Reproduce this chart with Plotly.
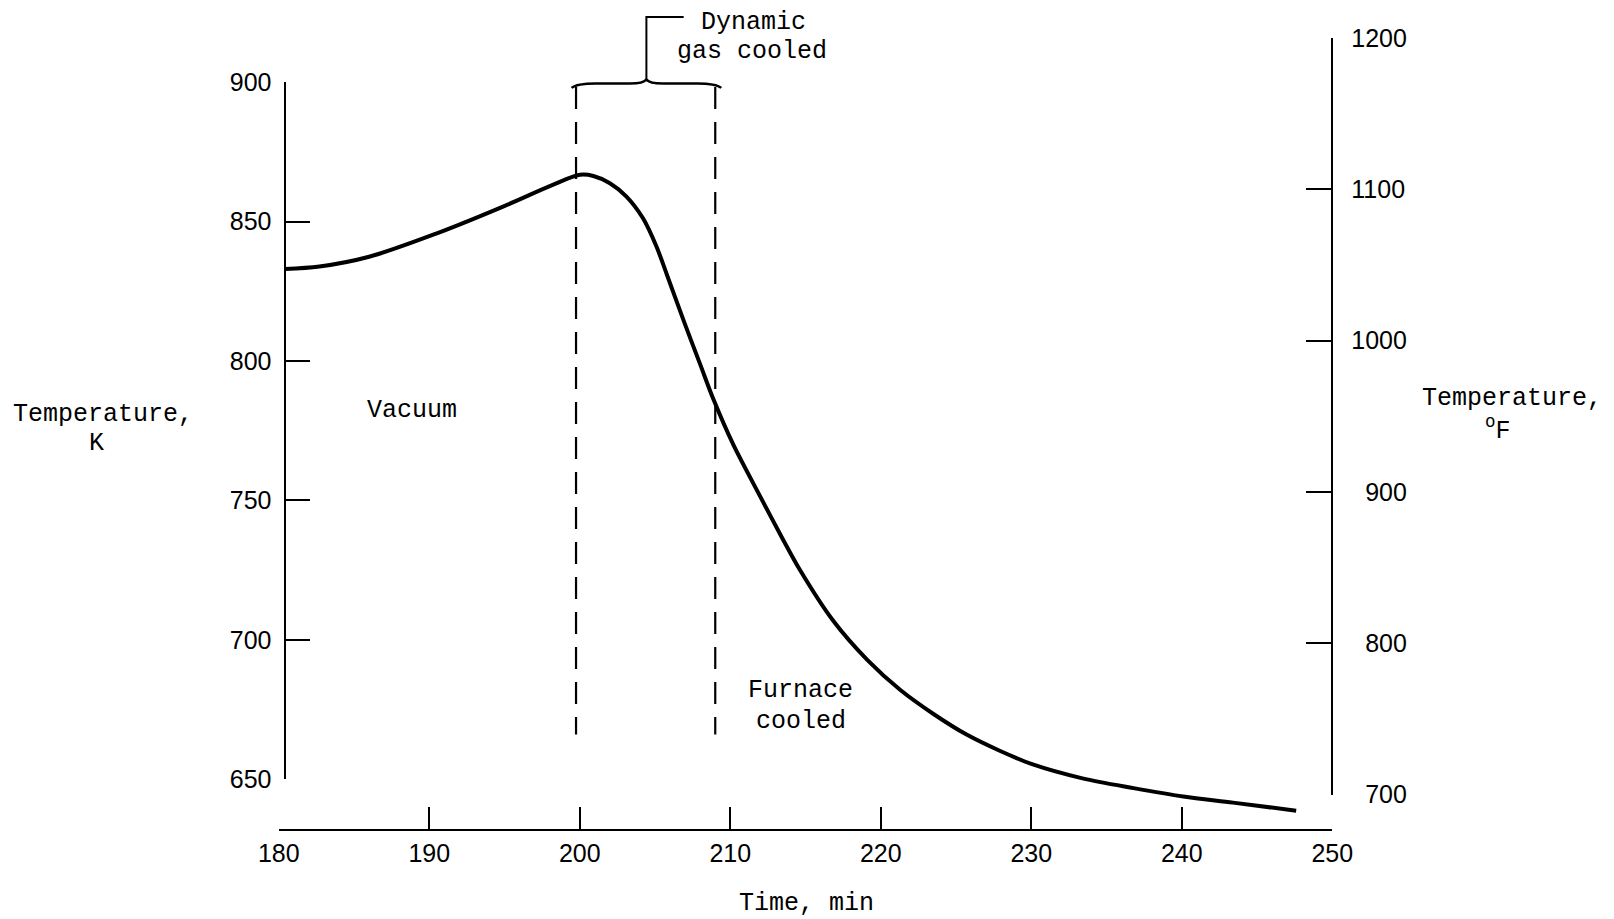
import plotly.graph_objects as go

# ---------------- data ----------------
time_min = [180.4, 182.7, 186.0, 190.5, 194.9, 198.2, 200.0, 200.9, 202.0, 203.1,
            204.2, 205.1, 205.8, 206.9, 208.0, 208.9, 210.2, 212.0, 213.5, 214.6,
            216.8, 219.1, 221.3, 223.5, 225.7, 227.9, 230.1, 233.4, 236.8, 240.1,
            243.4, 247.6]
temp_K = [833.0, 833.9, 837.4, 845.8, 855.4, 863.2, 866.8, 866.4, 863.8, 859.0,
          851.2, 841.0, 830.8, 814.5, 798.8, 786.0, 770.0, 751.3, 736.0, 725.3,
          707.1, 692.8, 682.0, 673.4, 666.0, 660.2, 655.3, 650.3, 646.8, 643.8,
          641.6, 638.7]

gas_cooled_start = 199.75   # min
gas_cooled_end = 209.0      # min

x_ticks = [180, 190, 200, 210, 220, 230, 240, 250]
k_ticks = [650, 700, 750, 800, 850, 900]
f_ticks = [700, 800, 900, 1000, 1100, 1200]

temp_F = [k * 1.8 - 459.67 for k in temp_K]

# ---------------- layout geometry (pixels of the 1614x919 page) ----------------
W, H = 1614, 919


def px(x):
    return x / W


def py(y):
    return 1 - y / H


X180, X250 = 278.8, 1332.3
Y900, Y650 = 82.3, 779.2
Y_XAXIS = 829.0
Y1200F, Y700F = 38.1, 794.6
X_KAXIS = 284.5
X_FAXIS = 1332.3

k_per_px = (900 - 650) / (Y650 - Y900)
k_top = 900 + Y900 * k_per_px
k_bottom = 650 - (Y_XAXIS - Y650) * k_per_px

dashed_top_K = 898.3
dashed_bottom_K = 666.0
brace_end_K, brace_arm_K, brace_cusp_K = 898.0, 899.6, 901.0
leader_top_K = 923.4
leader_end_t = 206.9

MONO = "Liberation Mono, Courier New, monospace"
SANS = "Liberation Sans, Arial, sans-serif"
BLACK = "#000000"

fig = go.Figure()

# main curve
fig.add_trace(go.Scatter(
    x=time_min, y=temp_K, mode="lines",
    line=dict(color=BLACK, width=4, shape="spline", smoothing=0.9),
    xaxis="x", yaxis="y", hoverinfo="skip", showlegend=False))

# phase boundaries (dashed)
for t in (gas_cooled_start, gas_cooled_end):
    fig.add_trace(go.Scatter(
        x=[t, t], y=[dashed_top_K, dashed_bottom_K], mode="lines",
        line=dict(color=BLACK, width=2.2, dash="22px,13px"),
        xaxis="x", yaxis="y", hoverinfo="skip", showlegend=False))

# invisible carriers for the visible K and F axes
fig.add_trace(go.Scatter(x=time_min, y=temp_K, mode="lines", opacity=0,
                         xaxis="x", yaxis="y3", hoverinfo="skip", showlegend=False))
fig.add_trace(go.Scatter(x=time_min, y=temp_F, mode="lines", opacity=0,
                         xaxis="x", yaxis="y2", hoverinfo="skip", showlegend=False))

# curly brace over the gas-cooled interval + leader
L = gas_cooled_start - 0.3
R = gas_cooled_end + 0.4
M = (L + R) / 2
brace = (f"M {L},{brace_end_K} Q {L + 0.35},{brace_arm_K} {L + 1.6},{brace_arm_K} "
         f"L {M - 1.4},{brace_arm_K} Q {M - 0.25},{brace_arm_K - 0.3} {M},{brace_cusp_K} "
         f"Q {M + 0.25},{brace_arm_K - 0.3} {M + 1.4},{brace_arm_K} "
         f"L {R - 1.6},{brace_arm_K} Q {R - 0.35},{brace_arm_K} {R},{brace_end_K}")
leader = f"M {M},{brace_cusp_K} L {M},{leader_top_K} L {leader_end_t},{leader_top_K}"
shapes = [
    dict(type="path", path=brace, xref="x", yref="y", line=dict(color=BLACK, width=2.5)),
    dict(type="path", path=leader, xref="x", yref="y", line=dict(color=BLACK, width=2)),
]

axis_common = dict(showgrid=False, zeroline=False, showline=True, linecolor=BLACK,
                   linewidth=2, ticks="inside", tickwidth=2, tickcolor=BLACK,
                   automargin=False,
                   tickfont=dict(family=SANS, size=25, color=BLACK))


def ann(text, x, y, font=MONO, size=25, xanchor="center"):
    return dict(text=text, x=px(x), y=py(y), xref="paper", yref="paper",
                xanchor=xanchor, yanchor="middle", showarrow=False,
                font=dict(family=font, size=size, color=BLACK))


annotations = [
    ann("Temperature,", 102.5, 414.7),
    ann("K", 96.7, 444.0),
    ann("Temperature,", 1511.5, 398.5),
    ann("<sup>o</sup>F", 1498.0, 429.0),
    ann("Vacuum", 411.7, 410.0),
    ann("Furnace", 800.8, 690.0),
    ann("cooled", 800.8, 721.0),
    ann("Dynamic", 753.3, 22.5),
    ann("gas cooled", 751.7, 51.0),
    ann("Time, min", 806.5, 903.0),
]

f_text = [("\u00a0\u00a0" if v < 1000 else "") + str(v) for v in f_ticks]

fig.update_layout(
    template="none",
    width=W, height=H,
    margin=dict(l=0, r=0, t=0, b=0, pad=0, autoexpand=False),
    paper_bgcolor="white", plot_bgcolor="rgba(0,0,0,0)",
    showlegend=False,
    xaxis=dict(domain=[px(X180), px(X250)], range=[180, 250], anchor="y",
               tickvals=x_ticks, ticktext=[str(v) for v in x_ticks], ticklen=22,
               ticklabelstandoff=1, **axis_common),
    yaxis=dict(domain=[py(Y_XAXIS), 1], range=[k_bottom, k_top], visible=False,
               automargin=False, fixedrange=True),
    yaxis3=dict(domain=[py(Y650), py(Y900)], range=[650, 900], anchor="free",
                position=px(X_KAXIS), side="left",
                tickvals=k_ticks, ticktext=[str(v) for v in k_ticks], ticklen=24,
                ticklabelstandoff=7, **axis_common),
    yaxis2=dict(domain=[py(Y700F), py(Y1200F)], range=[700, 1200], anchor="free",
                position=px(X_FAXIS), side="right",
                tickvals=f_ticks, ticktext=f_text, ticklen=25,
                ticklabelstandoff=13, **axis_common),
    shapes=shapes,
    annotations=annotations,
)

fig.write_html("out.html", config={"displayModeBar": False},
               post_script="document.body.style.margin='0';")
